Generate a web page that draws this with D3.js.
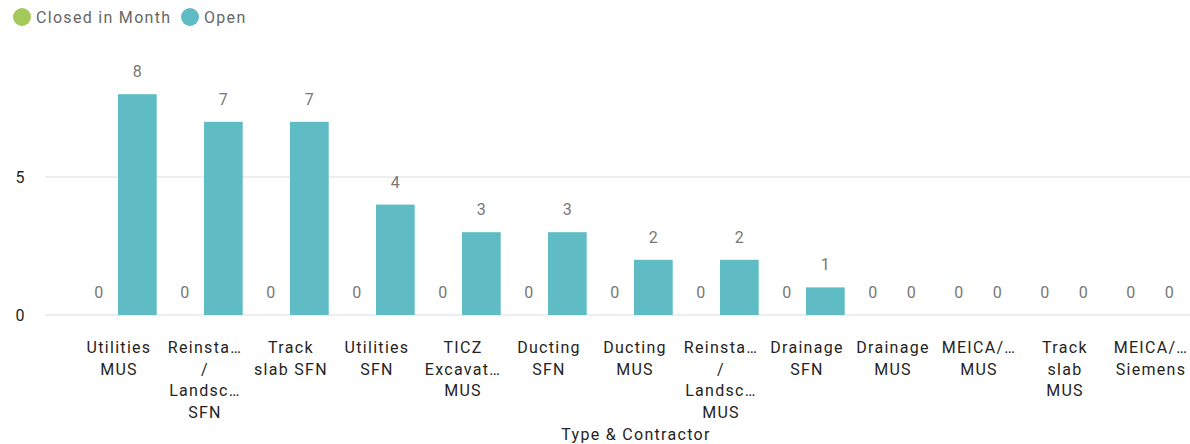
<!DOCTYPE html>
<html>
<head>
<meta charset="utf-8">
<script src="https://cdn.jsdelivr.net/npm/d3@7"></script>
<style>
  body { margin: 0; background: #fff; }
  text { font-family: "Roboto", "DejaVu Sans", sans-serif; }
  .word { letter-spacing: 1.3px; }
</style>
</head>
<body>
<div id="chart"></div>
<script>
// Categories as shown on the axis (Power BI wraps and cuts them)
var categories = ["Utilities MUS", "Reinstatement / Landscaping SFN", "Track slab SFN", "Utilities SFN",
    "TICZ Excavation MUS", "Ducting SFN", "Ducting MUS", "Reinstatement / Landscaping MUS",
    "Drainage SFN", "Drainage MUS", "MEICA/… MUS", "Track slab MUS", "MEICA/… Siemens"];
var tickLines = [
    ["Utilities", "MUS"], ["Reinsta…", "/", "Landsc…", "SFN"], ["Track", "slab SFN"], ["Utilities", "SFN"],
    ["TICZ", "Excavat…", "MUS"], ["Ducting", "SFN"], ["Ducting", "MUS"], ["Reinsta…", "/", "Landsc…", "MUS"],
    ["Drainage", "SFN"], ["Drainage", "MUS"], ["MEICA/…", "MUS"], ["Track", "slab", "MUS"], ["MEICA/…", "Siemens"]
];
var series = ["Closed in Month", "Open"];
var closedInMonth = [0, 0, 0, 0, 0, 0, 0, 0, 0, 0, 0, 0, 0];
var open = [8, 7, 7, 4, 3, 3, 2, 2, 1, 0, 0, 0, 0];
var yTicks = [0, 5];
var colors = ["#A5C85B", "#5FBBC4"];

var width = 1190, height = 444;

var svg = d3.select("#chart").append("svg")
    .attr("width", width)
    .attr("height", height);

var xScale = d3.scaleBand()
    .domain(categories)
    .range([75, 1193])
    .paddingInner(0.1)
    .paddingOuter(0.05);

var xSub = d3.scaleBand()
    .domain(series)
    .range([0, xScale.bandwidth()]);

var yScale = d3.scaleLinear()
    .domain([0, 10])
    .range([315, 39]);

// gridlines
svg.append("g").selectAll("line")
    .data(yTicks)
    .enter().append("line")
    .attr("x1", 45)
    .attr("x2", 1190)
    .attr("y1", function (d) { return yScale(d); })
    .attr("y2", function (d) { return yScale(d); })
    .attr("stroke", "#e8e8e8")
    .attr("stroke-width", 1.5);

// y axis labels
svg.append("g").selectAll("text")
    .data(yTicks)
    .enter().append("text")
    .attr("x", 20)
    .attr("y", function (d) { return yScale(d) + 6; })
    .attr("text-anchor", "middle")
    .style("font-size", "16px")
    .style("fill", "#252423")
    .text(function (d) { return d; });

var rows = categories.map(function (c, i) {
    return {cat: c, values: [closedInMonth[i], open[i]]};
});

var groups = svg.append("g").selectAll("g")
    .data(rows)
    .enter().append("g")
    .attr("transform", function (d) { return "translate(" + xScale(d.cat) + ",0)"; });

groups.selectAll("rect")
    .data(function (d) { return d.values.map(function (v, j) { return {s: series[j], v: v, j: j}; }); })
    .enter().append("rect")
    .attr("x", function (d) { return xSub(d.s); })
    .attr("width", xSub.bandwidth())
    .attr("y", function (d) { return yScale(d.v); })
    .attr("height", function (d) { return yScale(0) - yScale(d.v); })
    .attr("fill", function (d) { return colors[d.j]; });

groups.selectAll("text")
    .data(function (d) { return d.values.map(function (v, j) { return {s: series[j], v: v}; }); })
    .enter().append("text")
    .attr("x", function (d) { return xSub(d.s) + xSub.bandwidth() / 2; })
    .attr("y", function (d) { return yScale(d.v) - 17; })
    .attr("text-anchor", "middle")
    .style("font-size", "16px")
    .style("fill", "#777")
    .text(function (d) { return d.v; });

// x tick labels
var ticks = svg.append("g").selectAll("text")
    .data(categories)
    .enter().append("text")
    .attr("class", "word")
    .attr("text-anchor", "middle")
    .style("font-size", "16px")
    .style("fill", "#252423");

ticks.each(function (d, i) {
    var t = d3.select(this);
    tickLines[i].forEach(function (line, k) {
        t.append("tspan")
            .attr("x", xScale(d) + xScale.bandwidth() / 2 + 1)
            .attr("y", 353 + k * 21.5)
            .text(line);
    });
});

// axis title
svg.append("text")
    .attr("class", "word")
    .attr("x", 636)
    .attr("y", 440)
    .attr("text-anchor", "middle")
    .style("font-size", "16px")
    .style("fill", "#252423")
    .text("Type & Contractor");

// legend
var legend = svg.append("g").selectAll("g")
    .data(series)
    .enter().append("g")
    .attr("transform", function (d, i) { return "translate(" + [22, 190][i] + ",17)"; });

legend.append("circle")
    .attr("r", 9)
    .attr("fill", function (d, i) { return colors[i]; });

legend.append("text")
    .attr("class", "word")
    .attr("x", 14)
    .attr("y", 6)
    .style("font-size", "16px")
    .style("fill", "#666")
    .text(function (d) { return d; });
</script>
</body>
</html>
